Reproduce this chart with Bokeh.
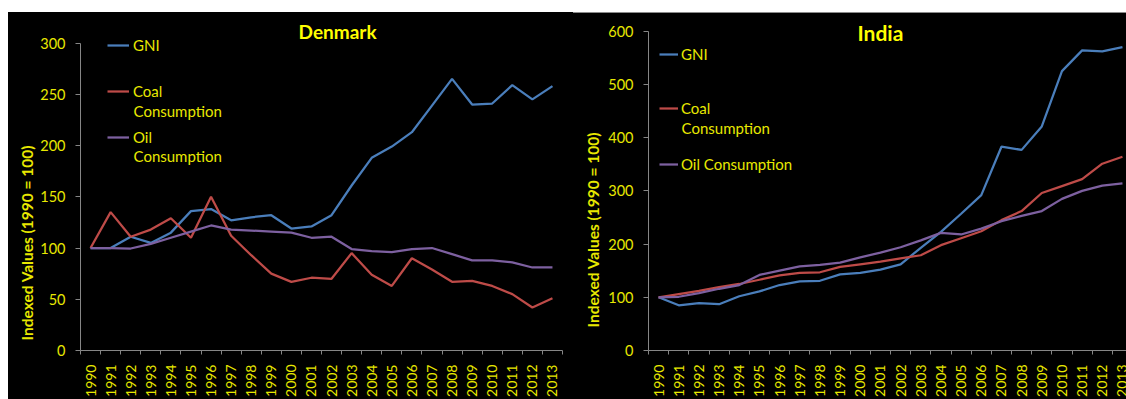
import math
from bokeh.plotting import figure
from bokeh.layouts import row, column
from bokeh.models import (Range1d, FixedTicker, SingleIntervalTicker, Label,
                          Legend, LegendItem, Title, Spacer)
from bokeh.embed import file_html
from bokeh.resources import INLINE

# ---- data: indexed values (1990 = 100) ----
years = list(range(1990, 2014))

dk_gni = [100, 100, 111, 105, 115, 136, 138, 127, 130, 132, 119, 121, 132, 161,
          188, 199, 213, 239, 265, 240, 241, 259, 245, 258]
dk_coal = [100, 135, 111, 118, 129, 110, 150, 112, 93, 75, 67, 71, 70, 95,
           74, 63, 90, 79, 67, 68, 63, 55, 42, 51]
dk_oil = [100, 100, 99.5, 104, 110, 116, 122, 118, 117, 116, 115, 110, 111, 99,
          97, 96, 99, 100, 94, 88, 88, 86, 81, 81]

in_gni = [100, 85, 89, 87, 102, 111, 123, 130, 131, 143, 146, 152, 162, 193,
          223, 257, 292, 383, 377, 421, 525, 564, 562, 570]
in_coal = [100, 106, 112, 119, 125, 133, 141, 146, 147, 157, 162, 167, 173, 179,
           198, 211, 224, 245, 262, 296, 309, 322, 351, 364]
in_oil = [100, 101, 108, 116, 123, 142, 150, 158, 161, 165, 175, 184, 194, 207,
          221, 218, 229, 243, 253, 262, 285, 300, 310, 314]

y_title = "Indexed Values (1990 = 100)"

GNI_C = "#4A7EBB"
COAL_C = "#BE4B48"
OIL_C = "#7D60A0"
YEL = "#E8E800"
TITLE_YEL = "#FFFF00"
AX_C = "#868686"
FONT = "Lato"

idx = list(range(len(years)))


def base_figure(width, height, x_end, y_top, y_end, y_step, left, right):
    # the frame fills the figure from the top; the y axis itself stops at y_top
    p = figure(width=width, height=height, output_backend="svg", toolbar_location=None,
               x_range=Range1d(-0.5, x_end), y_range=Range1d(0, y_end),
               min_border_left=left, min_border_right=right,
               min_border_top=0, min_border_bottom=44,
               background_fill_color="black", border_fill_color="black")
    p.outline_line_color = None
    p.grid.visible = False

    xa = p.xaxis[0]
    xa.ticker = FixedTicker(ticks=idx, minor_ticks=[i - 0.5 for i in range(len(years) + 1)])
    xa.major_label_overrides = {i: str(y) for i, y in zip(idx, years)}
    xa.major_label_orientation = math.pi / 2
    xa.major_tick_line_color = None
    xa.major_tick_out = 0
    xa.major_tick_in = 0
    xa.minor_tick_out = 4
    xa.minor_tick_in = 0
    xa.minor_tick_line_color = AX_C
    xa.axis_line_color = AX_C
    xa.major_label_standoff = 10
    xa.major_label_text_color = YEL
    xa.major_label_text_font = FONT
    xa.major_label_text_font_size = "14px"

    ya = p.yaxis[0]
    ya.ticker = SingleIntervalTicker(interval=y_step, num_minor_ticks=0)
    ya.bounds = (0, y_top)
    ya.axis_line_color = AX_C
    ya.major_tick_line_color = AX_C
    ya.major_tick_out = 5
    ya.major_tick_in = 0
    ya.minor_tick_line_color = None
    ya.major_label_standoff = 10
    ya.major_label_text_color = YEL
    ya.major_label_text_font = FONT
    ya.major_label_text_font_size = "14.5px"
    return p


def add_lines(p, gni, coal, oil):
    rs = []
    for vals, col in ((gni, GNI_C), (coal, COAL_C), (oil, OIL_C)):
        rs.append(p.line(idx, vals, line_color=col, line_width=2.25))
    return rs


def legend_row(p, label, renderer, vx, vy, glyph_w, standoff):
    leg = Legend(items=[LegendItem(label=label, renderers=[renderer])],
                 location=(vx, vy), padding=0, margin=0, spacing=0,
                 glyph_width=glyph_w, glyph_height=20, label_height=20,
                 label_standoff=standoff, background_fill_alpha=0,
                 border_line_color=None, label_text_color=YEL,
                 label_text_font=FONT, label_text_font_size="15px")
    p.add_layout(leg)


def text(p, s, x, y, size, bold=False, color=YEL, align="left"):
    p.add_layout(Label(x=x, y=y, text=s, text_color=color, text_font=FONT,
                       text_font_size=size, text_font_style="bold" if bold else "normal",
                       text_align=align, text_baseline="middle"))


def side_title(p, offset, standoff):
    p.add_layout(Title(text=y_title, align="left", offset=offset, standoff=standoff,
                       text_color=YEL, text_font=FONT, text_font_size="15.5px",
                       text_font_style="bold"), "left")


# ---- Denmark ----
p1 = base_figure(565, 387, 23.5, 300, 329.8, 50, 72, 11)
r1 = add_lines(p1, dk_gni, dk_coal, dk_oil)
legend_row(p1, "GNI", r1[0], 27, 295, 22, 4)
legend_row(p1, "Coal", r1[1], 27, 249, 22, 4)
legend_row(p1, "Oil", r1[2], 27, 203, 22, 4)
text(p1, "Consumption", 2.14, 233.7, "15px")
text(p1, "Consumption", 2.14, 189.4, "15px")
text(p1, "Denmark", 12.3, 311.5, "19px", bold=True, color=TITLE_YEL, align="center")
side_title(p1, 10, 3)

# ---- India ----
p2 = base_figure(553, 386, 23.2, 600, 633.3, 100, 75, 0)
r2 = add_lines(p2, in_gni, in_coal, in_oil)
legend_row(p2, "GNI", r2[0], 11, 286, 19, 3)
legend_row(p2, "Coal", r2[1], 11, 232, 19, 3)
legend_row(p2, "Oil Consumption", r2[2], 11, 176, 19, 3)
text(p2, "Consumption", 1.14, 418.5, "15px")
text(p2, "India", 11.0, 598.0, "21px", bold=True, color=TITLE_YEL, align="center")
side_title(p2, 23, 8)

top_rule = Spacer(width=553, height=1, styles={"background-color": "#8a8a8a"})
layout = row(p1, column(top_rule, p2, spacing=0), spacing=0,
             margin=(12, 0, 0, 8), styles={"background-color": "black"})
open("out.html", "w").write(file_html(layout, INLINE))
